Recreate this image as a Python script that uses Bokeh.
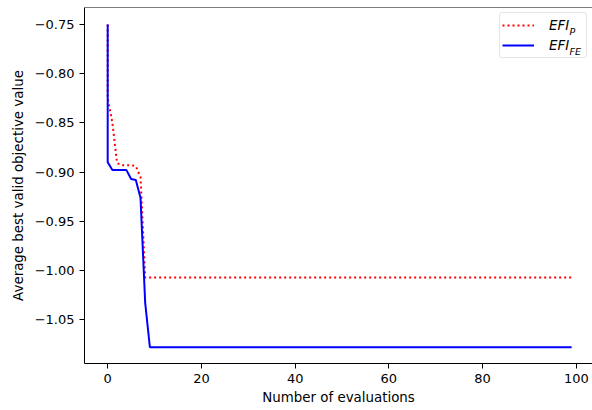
from bokeh.plotting import figure
from bokeh.models import (Range1d, FixedTicker, CustomJSTickFormatter, Legend,
                          LegendItem, Label, Span)
from bokeh.embed import file_html
from bokeh.resources import INLINE

# Evaluation index (the initial design is recorded twice at 0)
evals = [0] + list(range(100))

# Average best valid objective value, EFI with penalty
efi_p = ([-0.750, -0.825, -0.850, -0.891, -0.893, -0.893, -0.893, -0.894,
          -0.905, -1.007] + [-1.007] * 91)

# Average best valid objective value, EFI with feasibility estimate
efi_fe = ([-0.750, -0.890, -0.898, -0.898, -0.898, -0.898, -0.907, -0.908,
           -0.926, -1.033] + [-1.078] * 91)

x_ticks = [0, 20, 40, 60, 80, 100]
y_ticks = [-1.05, -1.00, -0.95, -0.90, -0.85, -0.80, -0.75]

W, H = 592, 410
LEFT, TOP, BOTTOM = 84, 7, 47
FRAME_W, FRAME_H = W - LEFT, H - TOP - BOTTOM
X0, X1 = -4.95, 103.45
Y0, Y1 = -1.0945, -0.7328

FONT = "DejaVu Sans"

p = figure(width=W, height=H, output_backend="svg", toolbar_location=None,
           x_range=Range1d(X0, X1), y_range=Range1d(Y0, Y1),
           min_border_left=LEFT, min_border_right=0, min_border_top=TOP,
           min_border_bottom=BOTTOM)
p.outline_line_color = None
p.xgrid.visible = False
p.ygrid.visible = False
p.background_fill_color = "white"
p.border_fill_color = "white"

r_p = p.line(evals, efi_p, line_color="#ff0000", line_width=2,
             line_dash="2 3")
r_fe = p.line(evals, efi_fe, line_color="#0000ff", line_width=2)

for ax in (p.xaxis[0], p.yaxis[0]):
    ax.axis_line_color = "black"
    ax.axis_line_width = 1
    ax.major_tick_line_color = "black"
    ax.major_tick_line_width = 1
    ax.major_tick_out = 5
    ax.major_tick_in = 0
    ax.minor_tick_line_color = None
    ax.major_label_text_font = FONT
    ax.major_label_text_font_size = "13px"
    ax.major_label_text_color = "black"
    ax.axis_label_text_font = FONT
    ax.axis_label_text_font_size = "13.4px"
    ax.axis_label_text_font_style = "normal"
    ax.axis_label_text_color = "black"

p.xaxis.ticker = FixedTicker(ticks=x_ticks)
p.yaxis.ticker = FixedTicker(ticks=y_ticks)
p.yaxis.formatter = CustomJSTickFormatter(
    code="return tick.toFixed(2).replace('-', '\\u2212');")
p.xaxis.major_label_standoff = 5
p.yaxis.major_label_standoff = 5
p.xaxis.axis_label = "Number of evaluations"
p.yaxis.axis_label = "Average best valid objective value"
p.xaxis.axis_label_standoff = 4
p.yaxis.axis_label_standoff = 6

# top spine
p.add_layout(Span(location=Y1, dimension="width", line_color="black",
                  line_width=1))

legend = Legend(items=[LegendItem(label="EFI", renderers=[r_p]),
                       LegendItem(label="EFI", renderers=[r_fe])],
                location="top_right", margin=5, padding=2, spacing=0,
                glyph_width=32, glyph_height=20, label_standoff=15,
                label_width=35, label_height=20,
                label_text_font=FONT, label_text_font_size="13.4px",
                label_text_font_style="italic", label_text_color="black",
                border_line_color="#cccccc", border_line_width=1,
                background_fill_color="white", background_fill_alpha=0.0)
if "border_radius" in Legend.properties():
    legend.border_radius = 3
p.add_layout(legend)


def sx(px):
    return X0 + (px - LEFT) * (X1 - X0) / FRAME_W


def sy(py):
    return Y1 - (py - TOP) * (Y1 - Y0) / FRAME_H


# subscripts of the legend labels
for sub, base in (("P", 30.5), ("FE", 50.5)):
    p.add_layout(Label(x=sx(569.0), y=sy(base), text=sub, level="overlay",
                       text_font=FONT, text_font_size="9.5px",
                       text_font_style="italic", text_color="black",
                       text_baseline="alphabetic", text_align="left"))

open("out.html", "w").write(file_html(p, INLINE))
